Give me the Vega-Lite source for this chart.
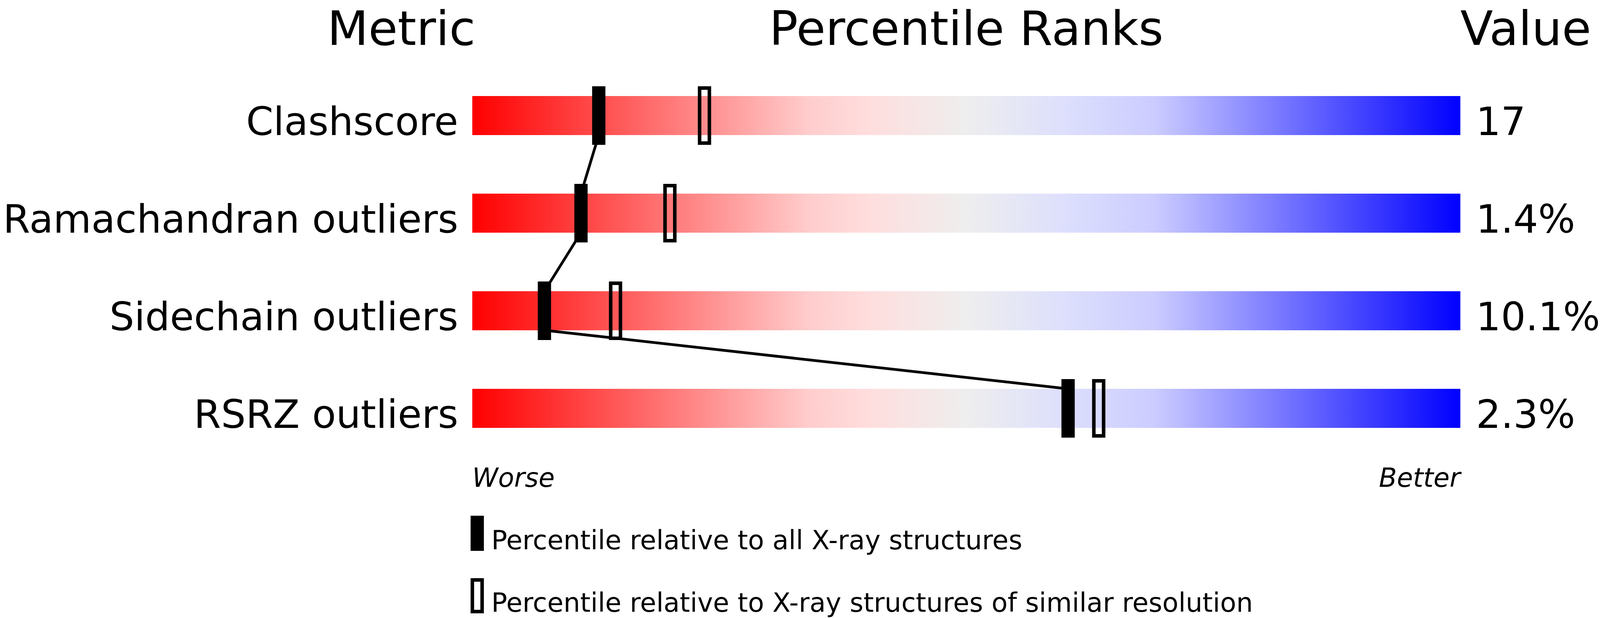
{
  "$schema": "https://vega.github.io/schema/vega-lite/v6.json",
  "autosize": {"type": "none"},
  "width": 4096,
  "height": 1583,
  "padding": 0,
  "background": "white",
  "config": {"view": {"stroke": null}},
  "data": {"values": [
    {"metric": "Clashscore", "row": 1, "all": 12.8, "similar": 23.5, "value": "17"},
    {"metric": "Ramachandran outliers", "row": 2, "all": 11.0, "similar": 20.0, "value": "1.4%"},
    {"metric": "Sidechain outliers", "row": 3, "all": 7.3, "similar": 14.5, "value": "10.1%"},
    {"metric": "RSRZ outliers", "row": 4, "all": 60.3, "similar": 63.4, "value": "2.3%"}
  ]},
  "layer": [
    {
      "mark": {"type": "bar", "orient": "horizontal", "height": 100,
        "color": {"gradient": "linear", "x1": 0, "x2": 1, "y1": 0, "y2": 0, "stops": [
          {"offset": 0, "color": "#ff0000"},
          {"offset": 0.34, "color": "#ffcccc"},
          {"offset": 0.40, "color": "#ffdddd"},
          {"offset": 0.50, "color": "#eeeeee"},
          {"offset": 0.60, "color": "#dddffd"},
          {"offset": 0.69, "color": "#ccccff"},
          {"offset": 1, "color": "#0000ff"}
        ]}},
      "encoding": {
        "x": {"datum": 0, "type": "quantitative", "axis": null, "scale": {"domain": [-47.8, 114.1333], "nice": false, "zero": false, "padding": 0}},
        "x2": {"datum": 100},
        "y": {"field": "row", "type": "quantitative", "axis": null, "scale": {"domain": [-0.184, 6.148], "reverse": true, "nice": false, "zero": false, "padding": 0}}
      }
    },
    {
      "transform": [
        {"window": [{"op": "lead", "field": "all", "as": "next_all"}, {"op": "lead", "field": "row", "as": "next_row"}], "sort": [{"field": "row"}]},
        {"filter": "datum.next_row != null"}
      ],
      "mark": {"type": "rule", "color": "black", "strokeWidth": 7, "yOffset": 50, "y2Offset": -50},
      "encoding": {
        "x": {"field": "all", "type": "quantitative", "axis": null},
        "x2": {"field": "next_all"},
        "y": {"field": "row", "type": "quantitative", "axis": null},
        "y2": {"field": "next_row"}
      }
    },
    {
      "mark": {"type": "tick", "orient": "vertical", "filled": false, "color": "black", "strokeWidth": 9, "thickness": 25, "size": 141, "opacity": 1},
      "encoding": {
        "x": {"field": "similar", "type": "quantitative", "axis": null},
        "y": {"field": "row", "type": "quantitative", "axis": null}
      }
    },
    {
      "mark": {"type": "tick", "orient": "vertical", "filled": true, "color": "black", "thickness": 34, "size": 150, "opacity": 1},
      "encoding": {
        "x": {"field": "all", "type": "quantitative", "axis": null},
        "y": {"field": "row", "type": "quantitative", "axis": null}
      }
    },
    {
      "mark": {"type": "text", "align": "right", "baseline": "alphabetic", "dx": -36, "dy": 50, "font": "DejaVu Sans", "fontSize": 100, "color": "black"},
      "encoding": {
        "x": {"datum": 0, "type": "quantitative", "axis": null},
        "y": {"field": "row", "type": "quantitative", "axis": null},
        "text": {"field": "metric"}
      }
    },
    {
      "mark": {"type": "text", "align": "left", "baseline": "alphabetic", "dx": 40, "dy": 50, "font": "DejaVu Sans", "fontSize": 100, "color": "black"},
      "encoding": {
        "x": {"datum": 100, "type": "quantitative", "axis": null},
        "y": {"field": "row", "type": "quantitative", "axis": null},
        "text": {"field": "value"}
      }
    },
    {
      "data": {"values": [{}]},
      "mark": {"type": "text", "text": "Metric", "align": "right", "baseline": "alphabetic", "dx": 8, "font": "DejaVu Sans", "fontSize": 122, "color": "black"},
      "encoding": {
        "x": {"datum": 0, "type": "quantitative", "axis": null},
        "y": {"datum": 0.276, "type": "quantitative", "axis": null}
      }
    },
    {
      "data": {"values": [{}]},
      "mark": {"type": "text", "text": "Percentile Ranks", "align": "center", "baseline": "alphabetic", "font": "DejaVu Sans", "fontSize": 122, "color": "black"},
      "encoding": {
        "x": {"datum": 50, "type": "quantitative", "axis": null},
        "y": {"datum": 0.276, "type": "quantitative", "axis": null}
      }
    },
    {
      "data": {"values": [{}]},
      "mark": {"type": "text", "text": "Value", "align": "left", "baseline": "alphabetic", "font": "DejaVu Sans", "fontSize": 122, "color": "black"},
      "encoding": {
        "x": {"datum": 100, "type": "quantitative", "axis": null},
        "y": {"datum": 0.276, "type": "quantitative", "axis": null}
      }
    },
    {
      "data": {"values": [{}]},
      "mark": {"type": "text", "text": "Worse", "align": "left", "baseline": "alphabetic", "font": "DejaVu Sans", "fontStyle": "italic", "fontSize": 67, "color": "black"},
      "encoding": {
        "x": {"datum": 0, "type": "quantitative", "axis": null},
        "y": {"datum": 4.8028, "type": "quantitative", "axis": null}
      }
    },
    {
      "data": {"values": [{}]},
      "mark": {"type": "text", "text": "Better", "align": "right", "baseline": "alphabetic", "font": "DejaVu Sans", "fontStyle": "italic", "fontSize": 67, "color": "black"},
      "encoding": {
        "x": {"datum": 100, "type": "quantitative", "axis": null},
        "y": {"datum": 4.8028, "type": "quantitative", "axis": null}
      }
    },
    {
      "data": {"values": [{}]},
      "mark": {"type": "tick", "orient": "vertical", "filled": true, "color": "black", "thickness": 34, "size": 90, "opacity": 1},
      "encoding": {
        "x": {"datum": 0.5, "type": "quantitative", "axis": null},
        "y": {"datum": 5.28, "type": "quantitative", "axis": null}
      }
    },
    {
      "data": {"values": [{}]},
      "mark": {"type": "tick", "orient": "vertical", "filled": false, "color": "black", "strokeWidth": 9, "thickness": 25, "size": 81, "opacity": 1},
      "encoding": {
        "x": {"datum": 0.5, "type": "quantitative", "axis": null},
        "y": {"datum": 5.92, "type": "quantitative", "axis": null}
      }
    },
    {
      "data": {"values": [{}]},
      "mark": {"type": "text", "text": "Percentile relative to all X-ray structures", "align": "left", "baseline": "alphabetic", "dx": 36, "font": "DejaVu Sans", "fontSize": 67.5, "color": "black"},
      "encoding": {
        "x": {"datum": 0.5, "type": "quantitative", "axis": null},
        "y": {"datum": 5.4428, "type": "quantitative", "axis": null}
      }
    },
    {
      "data": {"values": [{}]},
      "mark": {"type": "text", "text": "Percentile relative to X-ray structures of similar resolution", "align": "left", "baseline": "alphabetic", "dx": 36, "font": "DejaVu Sans", "fontSize": 67.5, "color": "black"},
      "encoding": {
        "x": {"datum": 0.5, "type": "quantitative", "axis": null},
        "y": {"datum": 6.0828, "type": "quantitative", "axis": null}
      }
    }
  ]
}
